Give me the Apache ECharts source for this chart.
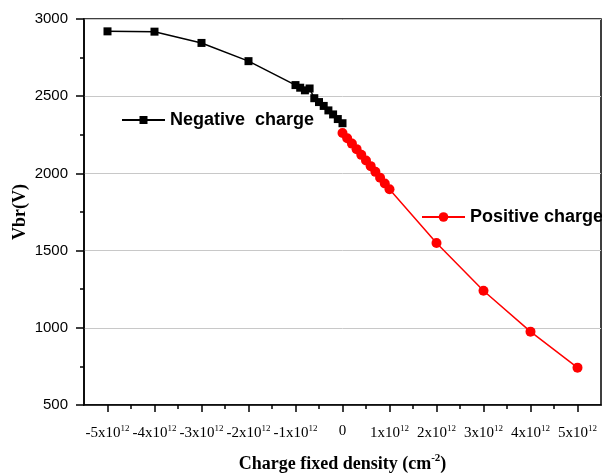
<!DOCTYPE html>
<html>
<head>
<meta charset="utf-8">
<script src="https://cdn.jsdelivr.net/npm/echarts@6/dist/echarts.min.js"></script>
<style>html,body{margin:0;padding:0;background:#fff;}#c{width:602px;height:473px;}</style>
</head>
<body>
<div id="c"></div>
<script>
// x in units of 1e12 cm^-2
const negX = [-5, -4, -3, -2, -1, -0.9, -0.8, -0.7, -0.6, -0.5, -0.4, -0.3, -0.2, -0.1, 0];
const negY = [2920, 2918, 2845, 2727, 2572, 2555, 2538, 2550, 2487, 2462, 2437, 2408, 2382, 2352, 2325];
const posX = [0, 0.1, 0.2, 0.3, 0.4, 0.5, 0.6, 0.7, 0.8, 0.9, 1, 2, 3, 4, 5];
const posY = [2262, 2228, 2193, 2157, 2120, 2083, 2047, 2010, 1972, 1935, 1897, 1549, 1240, 975, 742];
const xMajorTicks = [-5, -4, -3, -2, -1, 0, 1, 2, 3, 4, 5];
const xMinorTicks = [-4.5, -3.5, -2.5, -1.5, -0.5, 0.5, 1.5, 2.5, 3.5, 4.5];
const negName = 'Negative  charge';
const posName = 'Positive charge';

const chart = echarts.init(document.getElementById('c'));
const serif = 'Liberation Serif';
const sans = 'Liberation Sans';
const pairs = (xs, ys) => xs.map((x, i) => [x, ys[i]]);

chart.setOption({
  animation: false,
  backgroundColor: '#fff',
  grid: { left: 84, right: 1, top: 19, bottom: 68, containLabel: false, outerBoundsMode: 'none',
          show: true, borderColor: '#000', borderWidth: 1.5, backgroundColor: 'transparent' },
  legend: [
    { data: [negName], left: 121, top: 111, itemWidth: 43, itemHeight: 10, itemGap: 0, padding: 0,
      textStyle: { fontFamily: sans, fontWeight: 'bold', fontSize: 18, color: '#000' } },
    { data: [posName], left: 421, top: 208, itemWidth: 43, itemHeight: 12, itemGap: 0, padding: 0,
      textStyle: { fontFamily: sans, fontWeight: 'bold', fontSize: 18, color: '#000' } }
  ],
  xAxis: [
    { type: 'value', min: -5.5, max: 5.5, position: 'bottom',
      axisLine: { show: true, onZero: false, lineStyle: { color: '#000', width: 1.5 } },
      axisTick: { show: true, customValues: xMajorTicks, length: 7, lineStyle: { color: '#000', width: 1.5 } },
      axisLabel: { show: true, customValues: xMajorTicks, margin: 19,
        formatter: v => v === 0 ? '{b|0}' : '{b|' + v + 'x10}{s|12}',
        rich: { b: { fontFamily: serif, fontSize: 15, color: '#000' },
                s: { fontFamily: serif, fontSize: 9, color: '#000', padding: [0, 0, 9, 0] } } },
      splitLine: { show: false },
      name: 'Charge fixed density (cm{s|-2}{b|)}', nameLocation: 'middle', nameGap: 48,
      nameTextStyle: { fontFamily: serif, fontWeight: 'bold', fontSize: 18, color: '#000',
        rich: { s: { fontFamily: serif, fontWeight: 'bold', fontSize: 11, color: '#000', padding: [0, 0, 11, 0] },
                b: { fontFamily: serif, fontWeight: 'bold', fontSize: 18, color: '#000' } } } },
    { type: 'value', min: -5.5, max: 5.5, position: 'bottom',
      axisLine: { show: false, onZero: false },
      axisTick: { show: true, customValues: xMinorTicks, length: 4, lineStyle: { color: '#000', width: 1.5 } },
      axisLabel: { show: false }, splitLine: { show: false } }
  ],
  yAxis: [
    { type: 'value', min: 500, max: 3000, interval: 500,
      axisLine: { show: true, onZero: false, lineStyle: { color: '#000', width: 1.5 } },
      axisTick: { show: true, length: 8, lineStyle: { color: '#000', width: 1.5 } },
      minorTick: { show: true, splitNumber: 2, length: 4, lineStyle: { color: '#000', width: 1.5 } },
      axisLabel: { fontFamily: sans, fontSize: 15, color: '#000', margin: 16, formatter: v => String(v) },
      splitLine: { show: true, lineStyle: { color: '#c8c8c8', width: 1 } },
      name: 'Vbr(V)', nameLocation: 'middle', nameGap: 55, nameRotate: 90, nameMoveOverlap: false,
      nameTextStyle: { fontFamily: serif, fontWeight: 'bold', fontSize: 18, color: '#000' } }
  ],
  series: [
    { name: negName, type: 'line', xAxisIndex: 0, data: pairs(negX, negY),
      symbol: 'rect', symbolSize: 8, itemStyle: { color: '#000' },
      lineStyle: { color: '#000', width: 1.5 }, z: 3 },
    { name: posName, type: 'line', xAxisIndex: 0, data: pairs(posX, posY),
      symbol: 'circle', symbolSize: 10, itemStyle: { color: '#ff0000' },
      lineStyle: { color: '#ff0000', width: 1.5 }, z: 2 }
  ]
});
</script>
</body>
</html>
